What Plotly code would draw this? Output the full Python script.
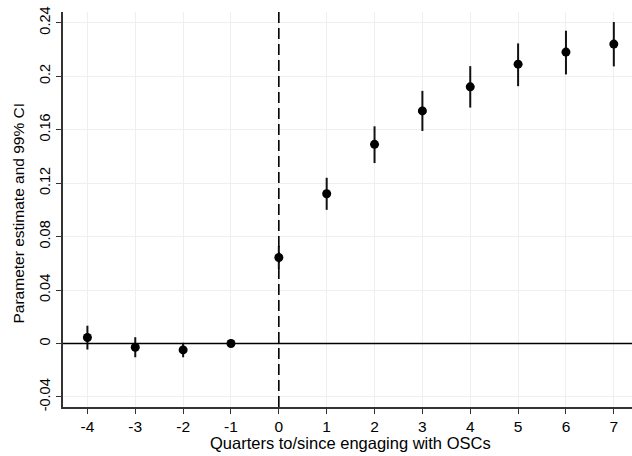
import plotly.graph_objects as go

quarters = [-4, -3, -2, -1, 0, 1, 2, 3, 4, 5, 6, 7]
estimate = [0.0045, -0.0028, -0.0048, 0.0, 0.0643, 0.112, 0.149, 0.174, 0.192, 0.209, 0.218, 0.224]
ci_low = [-0.0045, -0.0103, -0.0103, 0.0, 0.056, 0.100, 0.135, 0.159, 0.1765, 0.1925, 0.2013, 0.2073]
ci_high = [0.0133, 0.0047, 0.0005, 0.0, 0.073, 0.124, 0.1625, 0.189, 0.2075, 0.2245, 0.234, 0.2405]
y_ticks = [-0.04, 0, 0.04, 0.08, 0.12, 0.16, 0.2, 0.24]
y_tick_labels = ["-0.04", "0", "0.04", "0.08", "0.12", "0.16", "0.2", "0.24"]
x_title = "Quarters to/since engaging with OSCs"
y_title = "Parameter estimate and 99% CI"

err_plus = [h - e for h, e in zip(ci_high, estimate)]
err_minus = [e - l for e, l in zip(estimate, ci_low)]

FONT = "Liberation Sans, Arial, sans-serif"

fig = go.Figure()
fig.add_trace(go.Scatter(
    x=quarters, y=estimate, mode="markers",
    marker=dict(color="black", size=9),
    error_y=dict(type="data", array=err_plus, arrayminus=err_minus,
                 width=0, thickness=2, color="#111111"),
    showlegend=False,
))

fig.add_shape(type="line", xref="paper", yref="y", x0=0, x1=1, y0=0, y1=0,
              line=dict(color="black", width=1.6), layer="above")
fig.add_shape(type="line", xref="x", yref="paper", x0=0, x1=0, y0=0, y1=1,
              line=dict(color="black", width=1.6, dash="11px,5px"), layer="above")

fig.add_annotation(text=x_title, xref="paper", yref="paper", x=0.5, y=0,
                   xshift=3, yshift=-36, showarrow=False,
                   font=dict(family=FONT, size=16.5, color="black"),
                   xanchor="center", yanchor="middle")
fig.add_annotation(text=y_title, xref="paper", yref="paper", x=0, y=0.5,
                   xshift=-45, yshift=-4, showarrow=False, textangle=-90,
                   font=dict(family=FONT, size=15.5, color="black"),
                   xanchor="center", yanchor="middle")

fig.update_layout(
    width=632, height=456,
    margin=dict(l=63, r=0, t=12, b=49),
    paper_bgcolor="white", plot_bgcolor="white",
    font=dict(family=FONT, size=15, color="black"),
    xaxis=dict(
        range=[-4.51, 7.38], tickmode="array", tickvals=quarters,
        ticktext=[str(q) for q in quarters],
        tickfont=dict(size=15.5),
        showgrid=True, gridcolor="#efefef", gridwidth=1,
        zeroline=False, showline=True, linecolor="#333333", linewidth=1.5,
        ticks="outside", ticklen=5, tickcolor="#333333",
        automargin=False,
    ),
    yaxis=dict(
        range=[-0.0475, 0.248], tickmode="array", tickvals=y_ticks, ticktext=y_tick_labels,
        tickangle=-90, tickfont=dict(size=14.5),
        showgrid=True, gridcolor="#efefef", gridwidth=1,
        zeroline=False, showline=True, linecolor="#333333", linewidth=1.5,
        ticks="outside", ticklen=5, tickcolor="#333333",
        automargin=False,
    ),
)

fig.write_html("out.html", config={"displayModeBar": False},
               post_script="document.body.style.margin='0';document.body.style.overflow='hidden';")
